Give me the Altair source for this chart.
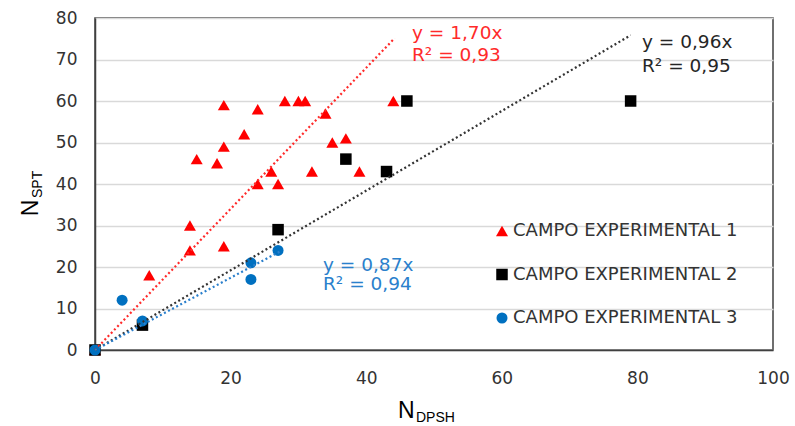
import altair as alt
import pandas as pd

series_names = ["CAMPO EXPERIMENTAL 1", "CAMPO EXPERIMENTAL 2", "CAMPO EXPERIMENTAL 3"]

red_x = [0, 8, 14, 14, 19, 15, 18, 19, 19, 22, 24, 24, 26, 27, 28, 30, 31, 32, 34, 35, 37, 39, 44]
red_y = [0, 18, 30, 24, 25, 46, 45, 49, 59, 52, 58, 40, 43, 40, 60, 60, 60, 43, 57, 50, 51, 43, 60]
black_x = [0, 7, 27, 37, 43, 46, 79]
black_y = [0, 6, 29, 46, 43, 60, 60]
blue_x = [0, 4, 7, 23, 23, 27]
blue_y = [0, 12, 7, 21, 17, 24]

slopes = [1.70, 0.96, 0.87]
trend_x_end = [44.2, 79.0, 27.3]
eq_text = ["y = 1,70x", "y = 0,96x", "y = 0,87x"]
r2_text = ["R² = 0,93", "R² = 0,95", "R² = 0,94"]

x_ticks = [0, 20, 40, 60, 80, 100]
y_ticks = [0, 10, 20, 30, 40, 50, 60, 70, 80]

marker_colors = ["#FF0000", "#000000", "#0070C0"]
trend_colors = ["#FF2A2A", "#333333", "#2A7FCC"]
text_colors = ["#FF2A2A", "#262626", "#2A80CC"]
shapes = ["triangle-up", "square", "circle"]
sizes = [144, 121, 110]

rows = []
for name, xs, ys in zip(series_names, [red_x, black_x, blue_x], [red_y, black_y, blue_y]):
    for xv, yv in zip(xs, ys):
        rows.append({"series": name, "x": xv, "y": yv})
df = pd.DataFrame(rows)

font = "DejaVu Sans"
W, H = 678, 332

xscale = alt.Scale(domain=[0, 100], nice=False)
yscale = alt.Scale(domain=[0, 80], nice=False)

points = alt.Chart(df).mark_point(filled=True, opacity=1, strokeWidth=0).encode(
    x=alt.X("x:Q", scale=xscale,
            axis=alt.Axis(values=x_ticks, title=None, grid=False, labelPadding=20,
                          labelFlush=False, labelOverlap=False)),
    y=alt.Y("y:Q", scale=yscale,
            axis=alt.Axis(values=y_ticks, title=None, grid=True, labelPadding=18,
                          labelOverlap=False)),
    color=alt.Color("series:N", scale=alt.Scale(domain=series_names, range=marker_colors),
                    legend=alt.Legend(title=None, orient="none", legendX=398, legendY=204)),
    shape=alt.Shape("series:N", scale=alt.Scale(domain=series_names, range=shapes),
                    legend=alt.Legend(title=None, orient="none", legendX=398, legendY=204)),
    size=alt.Size("series:O", scale=alt.Scale(domain=series_names, range=sizes), legend=None),
)

layers = [points]

for i, name in enumerate(series_names):
    tdf = pd.DataFrame({"x": [0, trend_x_end[i]], "y": [0, slopes[i] * trend_x_end[i]]})
    layers.append(
        alt.Chart(tdf).mark_line(color=trend_colors[i], strokeDash=[2, 2.6], strokeWidth=2.2,
                                 strokeCap="butt").encode(
            x=alt.X("x:Q", scale=xscale), y=alt.Y("y:Q", scale=yscale))
    )

# equation labels (pixel positions within the plot area)
eq_pos = [(317, 21, 43), (547, 30, 53.5), (228, 252.5, 271.5)]
dummy = pd.DataFrame({"d": [0]})
for i in range(3):
    px, py1, py2 = eq_pos[i]
    for txt, py in [(eq_text[i], py1), (r2_text[i], py2)]:
        layers.append(
            alt.Chart(dummy).mark_text(align="left", baseline="alphabetic", font=font,
                                       fontSize=18.5, color=text_colors[i]).encode(
                x=alt.value(px), y=alt.value(py), text=alt.value(txt))
        )

# axis titles with subscripts
title_font = "Liberation Sans"
layers.append(alt.Chart(dummy).mark_text(align="left", baseline="alphabetic", font=title_font,
                                         fontSize=23, color="#000000").encode(
    x=alt.value(303), y=alt.value(400), text=alt.value("N")))
layers.append(alt.Chart(dummy).mark_text(align="left", baseline="alphabetic", font=title_font,
                                         fontSize=14, color="#000000").encode(
    x=alt.value(321), y=alt.value(403.7), text=alt.value("DPSH")))
layers.append(alt.Chart(dummy).mark_text(align="center", baseline="alphabetic", font=title_font,
                                         fontSize=23, color="#000000", angle=270).encode(
    x=alt.value(-57), y=alt.value(190), text=alt.value("N")))
layers.append(alt.Chart(dummy).mark_text(align="left", baseline="alphabetic", font=title_font,
                                         fontSize=14, color="#000000", angle=270).encode(
    x=alt.value(-53), y=alt.value(180), text=alt.value("SPT")))

chart = alt.layer(*layers).properties(
    width=W, height=H,
    autosize=alt.AutoSizeParams(type="none"),
    padding={"left": 95, "top": 18, "right": 22, "bottom": 76},
    background="white",
).configure_view(
    stroke="#404040", strokeWidth=1.5
).configure_axis(
    domainColor="#404040", domainWidth=1.5, labelFont=font, labelFontSize=17,
    labelColor="#333333", ticks=False, tickSize=0, gridColor="#d9d9d9", gridWidth=1.5,
).configure_legend(
    labelFont=font, labelFontSize=18, labelColor="#333333", symbolSize=90,
    rowPadding=25.5, labelOffset=2, padding=0, labelLimit=400, symbolStrokeWidth=0,
)

chart.save("out.html", embed_options={"renderer": "svg", "actions": False})
